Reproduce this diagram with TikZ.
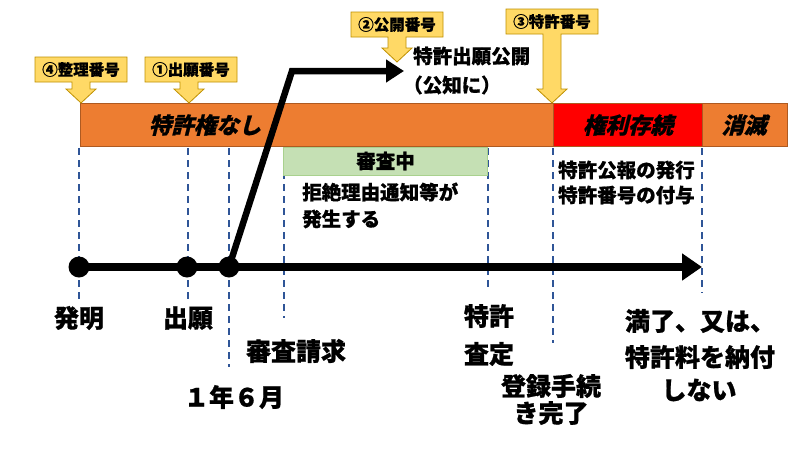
\documentclass[tikz,border=0pt]{standalone}
\usepackage{fontspec}
\usetikzlibrary{arrows.meta}
\newfontfamily\cjk{Noto Sans CJK JP}[BoldFeatures={FakeBold=0.8}]
\newfontfamily\cjkit{Noto Sans CJK JP}[FakeSlant=0.25, BoldFeatures={FakeSlant=0.25, FakeBold=0.8}]
\definecolor{barorange}{HTML}{ED7D31}
\definecolor{barred}{HTML}{FF0000}
\definecolor{barline}{HTML}{AE5A21}
\definecolor{callfill}{HTML}{FFD966}
\definecolor{callline}{HTML}{BF9000}
\definecolor{greenfill}{HTML}{C5E0B4}
\definecolor{greenline}{HTML}{A9D18E}
\definecolor{dashblue}{HTML}{2F5597}
\tikzset{
  lbl/.style={font=\cjk\bfseries\fontsize{25}{30}\selectfont, inner sep=0pt},
  smalltxt/.style={font=\cjk\bfseries\fontsize{19.5}{24}\selectfont, inner sep=0pt},
  calltxt/.style={font=\cjk\bfseries\fontsize{15.5}{18}\selectfont, inner sep=0pt},
  bartxt/.style={font=\cjkit\bfseries\fontsize{22.5}{26}\selectfont, inner sep=0pt},
  callshape/.style={fill=callfill, draw=callline, line width=0.8pt, line join=miter},
  guide/.style={draw=dashblue, line width=1.2pt, dash pattern=on 7pt off 5pt},
  timeline/.style={line width=7.5pt},
  dot/.style={circle, fill=black, minimum size=21pt, inner sep=0pt},
}
% callout: name, box centre x, box top y, tip x, tip y, text
\newcommand\mycallout[6]{%
  \draw[callshape] ({#2-46},#3) -- ({#2+46},#3) -- ({#2+46},{#3+25}) -- ({#4+9},{#3+25})
    -- ({#4+9},{#5-14}) -- ({#4+15},{#5-14}) -- (#4,#5) -- ({#4-15},{#5-14}) -- ({#4-9},{#5-14})
    -- ({#4-9},{#3+25}) -- ({#2-46},{#3+25}) -- cycle;
  \node[calltxt] (#1) at (#2,{#3+12.5}) {#6};%
}
\begin{document}
\begin{tikzpicture}[x=1pt,y=-1pt]
\useasboundingbox (0,0) rectangle (800,450);
% bars
\draw[fill=barorange, draw=barline, line width=0.6pt] (80,103) rectangle (553,146);
\draw[fill=barred, draw=barline, line width=0.6pt] (553,103) rectangle (702,146);
\draw[fill=barorange, draw=barline, line width=0.6pt] (702,103) rectangle (787,146);
\node[bartxt] (none) at (205,125) {特許権なし};
\node[bartxt] (alive) at (628,125) {権利存続};
\node[bartxt] (gone) at (744,125) {消滅};
% callouts
\mycallout{c4}{81}{57}{81}{103}{④整理番号}
\mycallout{c1}{191}{57}{189}{103}{①出願番号}
\mycallout{c2}{397}{12}{397}{62}{②公開番号}
\mycallout{c3}{552}{9}{552}{103}{③特許番号}
% guides
\draw[guide] (79,148) -- (79,302);
\draw[guide] (188,148) -- (188,302);
\draw[guide] (229,148) -- (229,367);
\draw[guide] (284,148) -- (284,318);
\draw[guide] (488,148) -- (488,290);
\draw[guide] (553,148) -- (553,343);
\draw[guide] (702,148) -- (702,293);
% exam box
\node[draw=greenline, fill=greenfill, line width=0.8pt, minimum width=204pt, minimum height=28pt, inner sep=0pt,
      font=\cjk\bfseries\fontsize{19.5}{24}\selectfont] (exam) at (385.5,161) {審査中};
\node[smalltxt, anchor=west] (rej1) at (302,192) {拒絶理由通知等が};
\node[smalltxt, anchor=west] (rej2) at (302,219) {発生する};
\node[smalltxt, anchor=west] (pub1) at (558,170) {特許公報の発行};
\node[smalltxt, anchor=west] (pub2) at (558,195) {特許番号の付与};
% timeline
\node[dot] (d1) at (79,267) {};
\node[dot] (d2) at (187,267) {};
\node[dot] (d3) at (229,267) {};
\coordinate (tend) at (702,267);
\draw[timeline, -{Triangle[length=20pt,width=26pt]}] (d1.center) -- (tend);
\coordinate (bend) at (292,71);
\coordinate (pubtip) at (404,71);
\draw[line width=6.5pt, line join=miter, -{Triangle[length=18pt,width=22pt]}] (d3.center) -- (bend) -- (pubtip);
\node[smalltxt, anchor=west] (pt1) at (413,56) {特許出願公開};
\node[smalltxt, anchor=west] (pt2) at (403,85) {（公知に）};
% labels
\node[lbl] (l1) at (79,318) {発明};
\node[lbl] (l2) at (188,318) {出願};
\node[lbl] (l3) at (296,351) {審査請求};
\node[lbl] (l4) at (234,397) {１年６月};
\node[lbl] (l5) at (489,316) {特許};
\node[lbl] (l6) at (489,354) {査定};
\node[lbl] (l7) at (551,386) {登録手続};
\node[lbl] (l8) at (551,413) {き完了};
\node[lbl] (l9) at (700,321) {満了、又は、};
\node[lbl] (l10) at (700,357) {特許料を納付};
\node[lbl] (l11) at (699,390) {しない};
\end{tikzpicture}
\end{document}
